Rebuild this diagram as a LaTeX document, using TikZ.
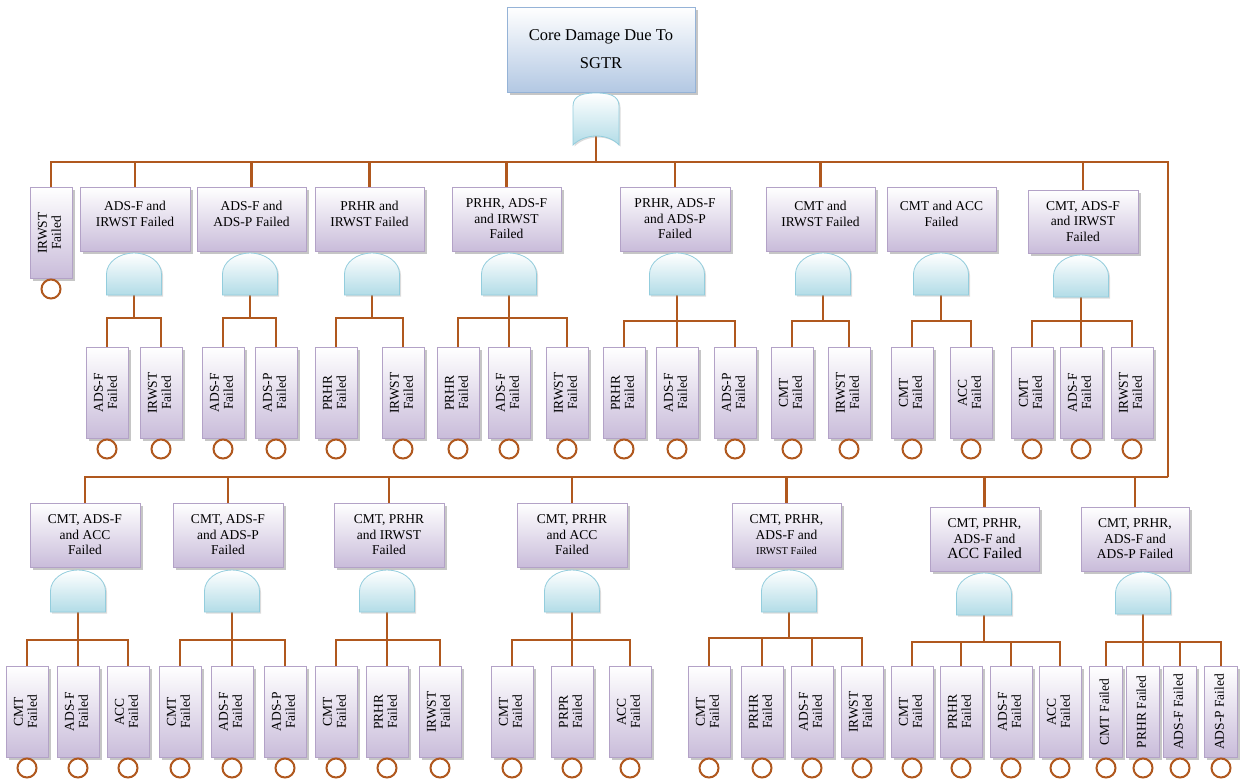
\documentclass[tikz,border=0pt]{standalone}
\usepackage{fontspec}
\setmainfont{Liberation Serif}
\usepackage{graphicx}
\usetikzlibrary{shadows,calc}

\definecolor{wire}{HTML}{B0581E}
\definecolor{lav}{HTML}{C9BCDA}
\definecolor{lavline}{HTML}{B3A2C7}
\definecolor{sky}{HTML}{B3C8E3}
\definecolor{skyline}{HTML}{95B3D7}
\definecolor{aqua}{HTML}{B2DCE7}
\definecolor{aqualine}{HTML}{93CDDD}

\pgfdeclarelayer{back}
\pgfsetlayers{back,main}

\tikzset{
  wirestyle/.style={draw=wire, line width=2.3pt},
  boxshadow/.style={drop shadow={shadow xshift=2.5pt, shadow yshift=-2.5pt, fill=black!50, opacity=.45}},
  topbox/.style={rectangle, draw=skyline, line width=.9pt, top color=white, bottom color=sky,
    boxshadow, align=center, inner sep=0pt, font=\fontsize{16.5}{28}\selectfont},
  midbox/.style={rectangle, draw=lavline, line width=.8pt, top color=white, bottom color=lav,
    boxshadow, align=center, inner sep=0pt, font=\fontsize{13.5}{15.5}\selectfont},
  leafbox/.style={rectangle, draw=lavline, line width=.8pt, top color=white, bottom color=lav,
    boxshadow, inner sep=0pt, minimum height=91pt, font=\fontsize{13.5}{14}\selectfont},
  gatestyle/.style={draw=aqualine, line width=.8pt, top color=white, bottom color=aqua,
    drop shadow={shadow xshift=1.5pt, shadow yshift=-1.5pt, fill=black!40, opacity=.35}},
  gatenode/.style={rectangle, draw=none, inner sep=0pt, minimum width=55pt, minimum height=42pt},
  event/.style={circle, draw=wire, line width=2pt, fill=white, minimum size=19pt, inner sep=0pt}
}

% intermediate event box: name, x1, y1, x2, y2, text
\newcommand\midevent[6]{%
  \node[midbox, minimum width=#4pt-#2pt, minimum height=#5pt-#3pt] (#1) at ({(#2+#4)/2},{(#3+#5)/2}) {#6};
}
% AND gate: name, centre x, top y
\newcommand\andgate[3]{%
  \path[gatestyle] (#2-27.5,#3+42) -- (#2-27.5,#3+21)
    arc[start angle=180, end angle=0, x radius=27.5pt, y radius=21pt]
    -- (#2+27.5,#3+42) -- cycle;
  \node[gatenode] (#1) at (#2,#3+21) {};
}
% basic event: name, centre x, top y, width, text
\newcommand\basicevent[5]{%
  \node[leafbox, minimum width=#4pt, anchor=north] (#1) at (#2,#3)
    {\rotatebox{90}{\begin{tabular}{@{}c@{}}#5\end{tabular}}};
  \node[event] (#1c) at (#2,#3+102) {};
}
% gate output fanned out to its inputs
\newcommand\fan[3]{%
  \coordinate (#1j) at (#1.south |- 0,#2);
  \draw[wirestyle] (#1.south) -- (#1j);
  \foreach \q in {#3} { \draw[wirestyle] (#1j) -| (\q.north); }
}

\begin{document}
\begin{tikzpicture}[x=1pt, y=-1pt]
\useasboundingbox (0,0) rectangle (1244,780);

% top event and its OR gate
\node[topbox, minimum width=188pt, minimum height=85pt] (top) at (601,49.5)
  {Core Damage Due To\\SGTR};
\path[gatestyle] (573,145) -- (573,106) .. controls (573,95) and (584,93) .. (596,93)
  .. controls (608,93) and (619,95) .. (619,106) -- (619,145)
  .. controls (608,133) and (585,133) .. (573,145) -- cycle;
\node[gatenode, minimum width=46pt, minimum height=52pt] (og) at (596,119) {};

% first tier
\basicevent{l0}{51}{187}{42}{IRWST\\Failed}
\midevent{e1}{80}{187}{190}{251}{ADS-F and\\IRWST Failed\\[-5pt]}
\midevent{e2}{197}{187}{306}{251}{ADS-F and\\ADS-P Failed\\[-5pt]}
\midevent{e3}{315}{187}{424}{251}{PRHR and\\IRWST Failed\\[-5pt]}
\midevent{e4}{452}{187}{561}{251}{PRHR, ADS-F\\and IRWST\\Failed}
\midevent{e5}{620}{187}{730}{251}{PRHR, ADS-F\\and ADS-P\\Failed}
\midevent{e6}{766}{187}{875}{251}{CMT and\\IRWST Failed\\[-5pt]}
\midevent{e7}{887}{187}{996}{251}{CMT and ACC\\Failed\\[-5pt]}
\midevent{e8}{1028}{190}{1138}{253}{CMT, ADS-F\\and IRWST\\Failed}

\andgate{g1}{134}{253}
\andgate{g2}{250}{253}
\andgate{g3}{372}{253}
\andgate{g4}{509}{253}
\andgate{g5}{677}{253}
\andgate{g6}{823}{253}
\andgate{g7}{941}{253}
\andgate{g8}{1081}{255}

\basicevent{l11}{107}{347}{42}{ADS-F\\Failed}
\basicevent{l12}{161}{347}{42}{IRWST\\Failed}
\basicevent{l21}{223}{347}{42}{ADS-F\\Failed}
\basicevent{l22}{276}{347}{42}{ADS-P\\Failed}
\basicevent{l31}{336}{347}{42}{PRHR\\Failed}
\basicevent{l32}{403}{347}{42}{IRWST\\Failed}
\basicevent{l41}{458}{347}{42}{PRHR\\Failed}
\basicevent{l42}{509}{347}{42}{ADS-F\\Failed}
\basicevent{l43}{567}{347}{42}{IRWST\\Failed}
\basicevent{l51}{624}{347}{42}{PRHR\\Failed}
\basicevent{l52}{677}{347}{42}{ADS-F\\Failed}
\basicevent{l53}{735}{347}{42}{ADS-P\\Failed}
\basicevent{l61}{792}{347}{42}{CMT\\Failed}
\basicevent{l62}{849}{347}{42}{IRWST\\Failed}
\basicevent{l71}{912}{347}{42}{CMT\\Failed}
\basicevent{l72}{971}{347}{42}{ACC\\Failed}
\basicevent{l81}{1032}{347}{42}{CMT\\Failed}
\basicevent{l82}{1081}{347}{42}{ADS-F\\Failed}
\basicevent{l83}{1132}{347}{42}{IRWST\\Failed}

% second tier
\midevent{f1}{30}{503}{140}{567}{CMT, ADS-F\\and ACC\\Failed}
\midevent{f2}{173}{503}{283}{567}{CMT, ADS-F\\and ADS-P\\Failed}
\midevent{f3}{334}{503}{444}{567}{CMT, PRHR\\and IRWST\\Failed}
\midevent{f4}{517}{503}{627}{567}{CMT, PRHR\\and ACC\\Failed}
\midevent{f5}{732}{503}{841}{567}{CMT, PRHR,\\ADS-F and\\{\fontsize{10.5}{12}\selectfont IRWST Failed}}
\midevent{f6}{930}{507}{1039}{571}{CMT, PRHR,\\ADS-F and\\{\fontsize{15.5}{17}\selectfont ACC Failed}}
\midevent{f7}{1081}{507}{1189}{571}{CMT, PRHR,\\ADS-F and\\ADS-P Failed}

\andgate{h1}{78}{570}
\andgate{h2}{232}{570}
\andgate{h3}{387}{570}
\andgate{h4}{572}{570}
\andgate{h5}{789}{570}
\andgate{h6}{984}{573}
\andgate{h7}{1143}{572}

\basicevent{m11}{27}{666}{42}{CMT\\Failed}
\basicevent{m12}{78}{666}{42}{ADS-F\\Failed}
\basicevent{m13}{128}{666}{42}{ACC\\Failed}
\basicevent{m21}{180}{666}{42}{CMT\\Failed}
\basicevent{m22}{232}{666}{42}{ADS-F\\Failed}
\basicevent{m23}{285}{666}{42}{ADS-P\\Failed}
\basicevent{m31}{336}{666}{42}{CMT\\Failed}
\basicevent{m32}{387}{666}{42}{PRHR\\Failed}
\basicevent{m33}{440}{666}{42}{IRWST\\Failed}
\basicevent{m41}{512}{666}{42}{CMT\\Failed}
\basicevent{m42}{572}{666}{42}{PRPR\\Failed}
\basicevent{m43}{630}{666}{42}{ACC\\Failed}
\basicevent{m51}{709}{666}{42}{CMT\\Failed}
\basicevent{m52}{762}{666}{42}{PRHR\\Failed}
\basicevent{m53}{812}{666}{42}{ADS-F\\Failed}
\basicevent{m54}{862}{666}{42}{IRWST\\Failed}
\basicevent{m61}{912}{666}{42}{CMT\\Failed}
\basicevent{m62}{961}{666}{42}{PRHR\\Failed}
\basicevent{m63}{1011}{666}{42}{ADS-F\\Failed}
\basicevent{m64}{1060}{666}{42}{ACC\\Failed}
\basicevent{m71}{1106}{666}{33}{CMT Failed}
\basicevent{m72}{1143}{666}{33}{PRHR Failed}
\basicevent{m73}{1180}{666}{33}{ADS-F Failed}
\basicevent{m74}{1221}{666}{33}{ADS-P Failed}

% connectors
\begin{pgfonlayer}{back}
  \coordinate (hub) at (og.center |- 0,162);
  \coordinate (cornerA) at (1168,162);
  \coordinate (cornerB) at (1168,477);
  \draw[wirestyle] (og.center) -- (hub);
  \foreach \n in {l0,e1,e2,e3,e4,e5,e6,e8} { \draw[wirestyle] (hub) -| (\n.north); }
  \draw[wirestyle] (hub) -- (cornerA) -- (cornerB);
  \foreach \n in {f1,f2,f3,f4,f5,f6,f7} { \draw[wirestyle] (cornerB) -| (\n.north); }

  \fan{g1}{318}{l11,l12}
  \fan{g2}{318}{l21,l22}
  \fan{g3}{318}{l31,l32}
  \fan{g4}{318}{l41,l42,l43}
  \fan{g5}{321}{l51,l52,l53}
  \fan{g6}{321}{l61,l62}
  \fan{g7}{321}{l71,l72}
  \fan{g8}{321}{l81,l82,l83}

  \fan{h1}{640}{m11,m12,m13}
  \fan{h2}{640}{m21,m22,m23}
  \fan{h3}{640}{m31,m32,m33}
  \fan{h4}{640}{m41,m42,m43}
  \fan{h5}{638}{m51,m52,m53,m54}
  \fan{h6}{642}{m61,m62,m63,m64}
  \fan{h7}{642}{m71,m72,m73,m74}
\end{pgfonlayer}
\end{tikzpicture}
\end{document}
